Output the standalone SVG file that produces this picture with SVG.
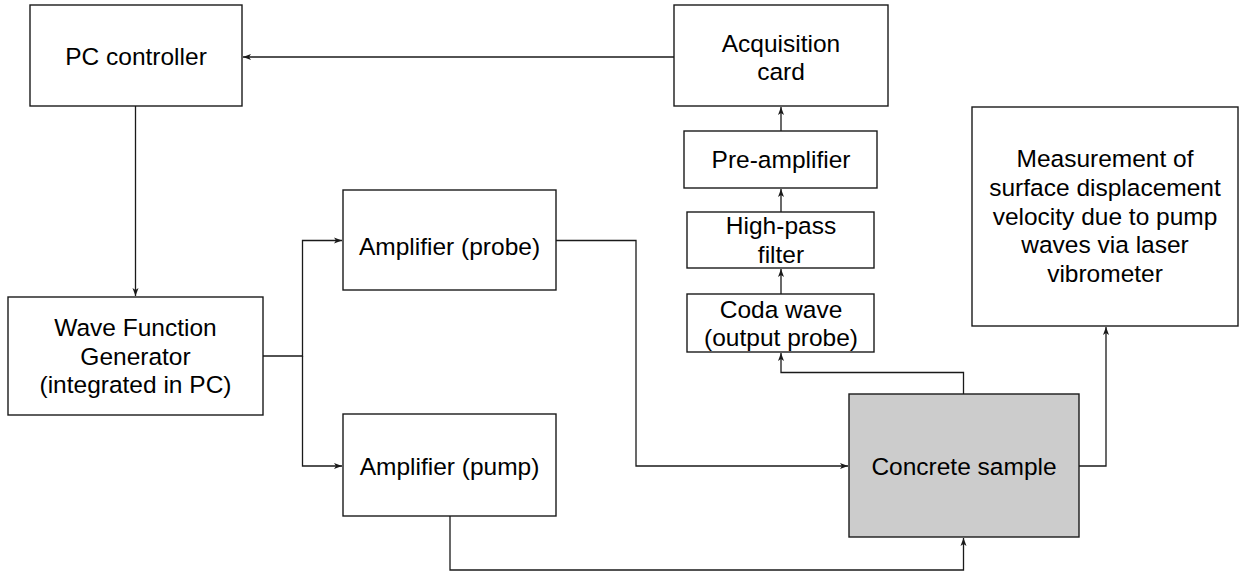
<svg xmlns="http://www.w3.org/2000/svg" width="1244" height="574" viewBox="0 0 1244 574">
<style>
.box{fill:#ffffff;stroke:#1a1a1a;stroke-width:1.4}
.gray{fill:#cccccc}
.t{font-family:"Liberation Sans",Arial,sans-serif;font-size:24.5px;fill:#000;text-anchor:middle}
.c{fill:none;stroke:#1a1a1a;stroke-width:1.3}
</style>
<defs>
<marker id="ah" markerUnits="userSpaceOnUse" markerWidth="10" markerHeight="8" refX="8" refY="4" orient="auto">
<path d="M0,1 L8,4 L0,7 L2,4 z" fill="#1a1a1a"/>
</marker>
</defs>
<rect width="1244" height="574" fill="#ffffff"/>
<g id="connectors">
<path class="c" d="M674,57 H243" marker-end="url(#ah)"/>
<path class="c" d="M135.5,106 V296" marker-end="url(#ah)"/>
<path class="c" d="M263,356 H302.5 V240.5 H342" marker-end="url(#ah)"/>
<path class="c" d="M302.5,356 V466 H342" marker-end="url(#ah)"/>
<path class="c" d="M556,240.5 H636 V466 H848" marker-end="url(#ah)"/>
<path class="c" d="M450,516 V570 H963.5 V538" marker-end="url(#ah)"/>
<path class="c" d="M963.5,394 V372.5 H781 V353" marker-end="url(#ah)"/>
<path class="c" d="M781,294 V269" marker-end="url(#ah)"/>
<path class="c" d="M781,212 V189" marker-end="url(#ah)"/>
<path class="c" d="M781,131 V107" marker-end="url(#ah)"/>
<path class="c" d="M1079,466 H1106 V327" marker-end="url(#ah)"/>
</g>
<g id="pc-controller">
<rect class="box" x="30" y="5" width="212" height="101"/>
<text class="t" x="136" y="65">PC controller</text>
</g>
<g id="acquisition-card">
<rect class="box" x="674" y="5" width="214" height="101"/>
<text class="t" x="781" y="52">Acquisition</text>
<text class="t" x="781" y="80">card</text>
</g>
<g id="pre-amplifier">
<rect class="box" x="684" y="131" width="193" height="57"/>
<text class="t" x="781" y="168">Pre-amplifier</text>
</g>
<g id="high-pass-filter">
<rect class="box" x="687" y="212" width="187" height="56"/>
<text class="t" x="781" y="234">High-pass</text>
<text class="t" x="781" y="263">filter</text>
</g>
<g id="coda-wave">
<rect class="box" x="687" y="294" width="187" height="58"/>
<text class="t" x="781" y="318">Coda wave</text>
<text class="t" x="781" y="346">(output probe)</text>
</g>
<g id="measurement">
<rect class="box" x="972" y="107" width="266" height="219"/>
<text class="t" x="1105" y="167">Measurement of</text>
<text class="t" x="1105" y="196">surface displacement</text>
<text class="t" x="1105" y="225">velocity due to pump</text>
<text class="t" x="1105" y="253">waves via laser</text>
<text class="t" x="1105" y="282">vibrometer</text>
</g>
<g id="wave-function-generator">
<rect class="box" x="8" y="297" width="255" height="118"/>
<text class="t" x="135.5" y="336">Wave Function</text>
<text class="t" x="135.5" y="365">Generator</text>
<text class="t" x="135.5" y="393">(integrated in PC)</text>
</g>
<g id="amplifier-probe">
<rect class="box" x="343" y="190" width="213" height="100"/>
<text class="t" x="449.5" y="255">Amplifier (probe)</text>
</g>
<g id="amplifier-pump">
<rect class="box" x="343" y="414" width="213" height="102"/>
<text class="t" x="449.5" y="475">Amplifier (pump)</text>
</g>
<g id="concrete-sample">
<rect class="box gray" x="849" y="394" width="230" height="143"/>
<text class="t" x="964" y="475">Concrete sample</text>
</g>
</svg>
